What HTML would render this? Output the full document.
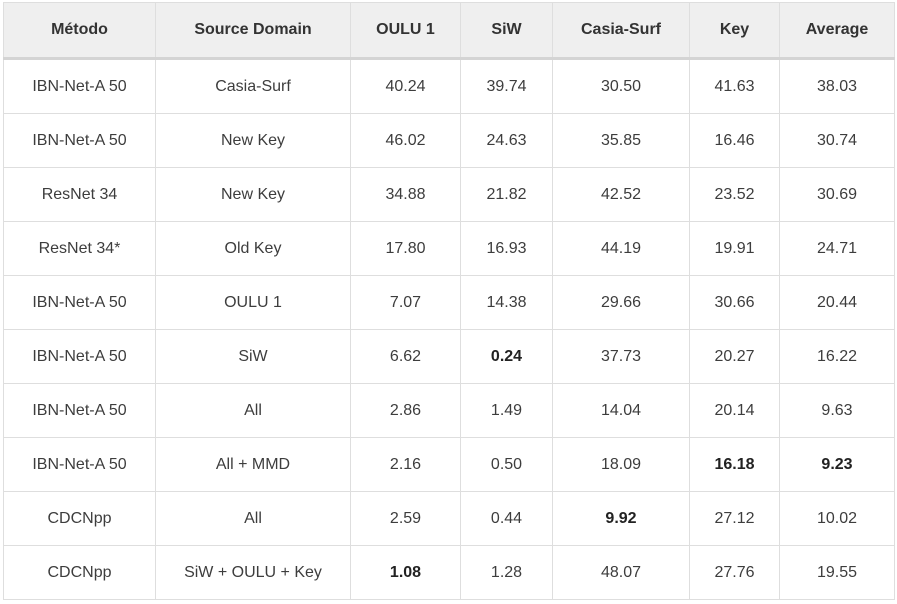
<!DOCTYPE html>
<html><head><meta charset="utf-8"><style>
html,body{margin:0;padding:0;background:#fff;width:897px;height:604px;overflow:hidden}
table{position:absolute;left:3px;top:2px;border-collapse:collapse;table-layout:fixed;font-family:"Liberation Sans","DejaVu Sans",sans-serif;font-size:16px;color:#3d3d3d}
td,th{border:1px solid #dedede;text-align:center;padding:0;height:53px}
th{background:#efefef;font-weight:bold;color:#333;height:54px;border-bottom:3px solid #d4d4d4}
b{color:#222}
</style></head><body>
<table>
<colgroup><col style="width:152px"><col style="width:195px"><col style="width:110px"><col style="width:92px"><col style="width:137px"><col style="width:90px"><col style="width:115px"></colgroup>
<thead><tr>
<th>Método</th>
<th>Source Domain</th>
<th>OULU 1</th>
<th>SiW</th>
<th>Casia-Surf</th>
<th>Key</th>
<th>Average</th>
</tr></thead>
<tbody>
<tr><td>IBN-Net-A 50</td><td>Casia-Surf</td><td>40.24</td><td>39.74</td><td>30.50</td><td>41.63</td><td>38.03</td></tr>
<tr><td>IBN-Net-A 50</td><td>New Key</td><td>46.02</td><td>24.63</td><td>35.85</td><td>16.46</td><td>30.74</td></tr>
<tr><td>ResNet 34</td><td>New Key</td><td>34.88</td><td>21.82</td><td>42.52</td><td>23.52</td><td>30.69</td></tr>
<tr><td>ResNet 34*</td><td>Old Key</td><td>17.80</td><td>16.93</td><td>44.19</td><td>19.91</td><td>24.71</td></tr>
<tr><td>IBN-Net-A 50</td><td>OULU 1</td><td>7.07</td><td>14.38</td><td>29.66</td><td>30.66</td><td>20.44</td></tr>
<tr><td>IBN-Net-A 50</td><td>SiW</td><td>6.62</td><td><b>0.24</b></td><td>37.73</td><td>20.27</td><td>16.22</td></tr>
<tr><td>IBN-Net-A 50</td><td>All</td><td>2.86</td><td>1.49</td><td>14.04</td><td>20.14</td><td>9.63</td></tr>
<tr><td>IBN-Net-A 50</td><td>All + MMD</td><td>2.16</td><td>0.50</td><td>18.09</td><td><b>16.18</b></td><td><b>9.23</b></td></tr>
<tr><td>CDCNpp</td><td>All</td><td>2.59</td><td>0.44</td><td><b>9.92</b></td><td>27.12</td><td>10.02</td></tr>
<tr><td>CDCNpp</td><td>SiW + OULU + Key</td><td><b>1.08</b></td><td>1.28</td><td>48.07</td><td>27.76</td><td>19.55</td></tr>
</tbody></table>
</body></html>
